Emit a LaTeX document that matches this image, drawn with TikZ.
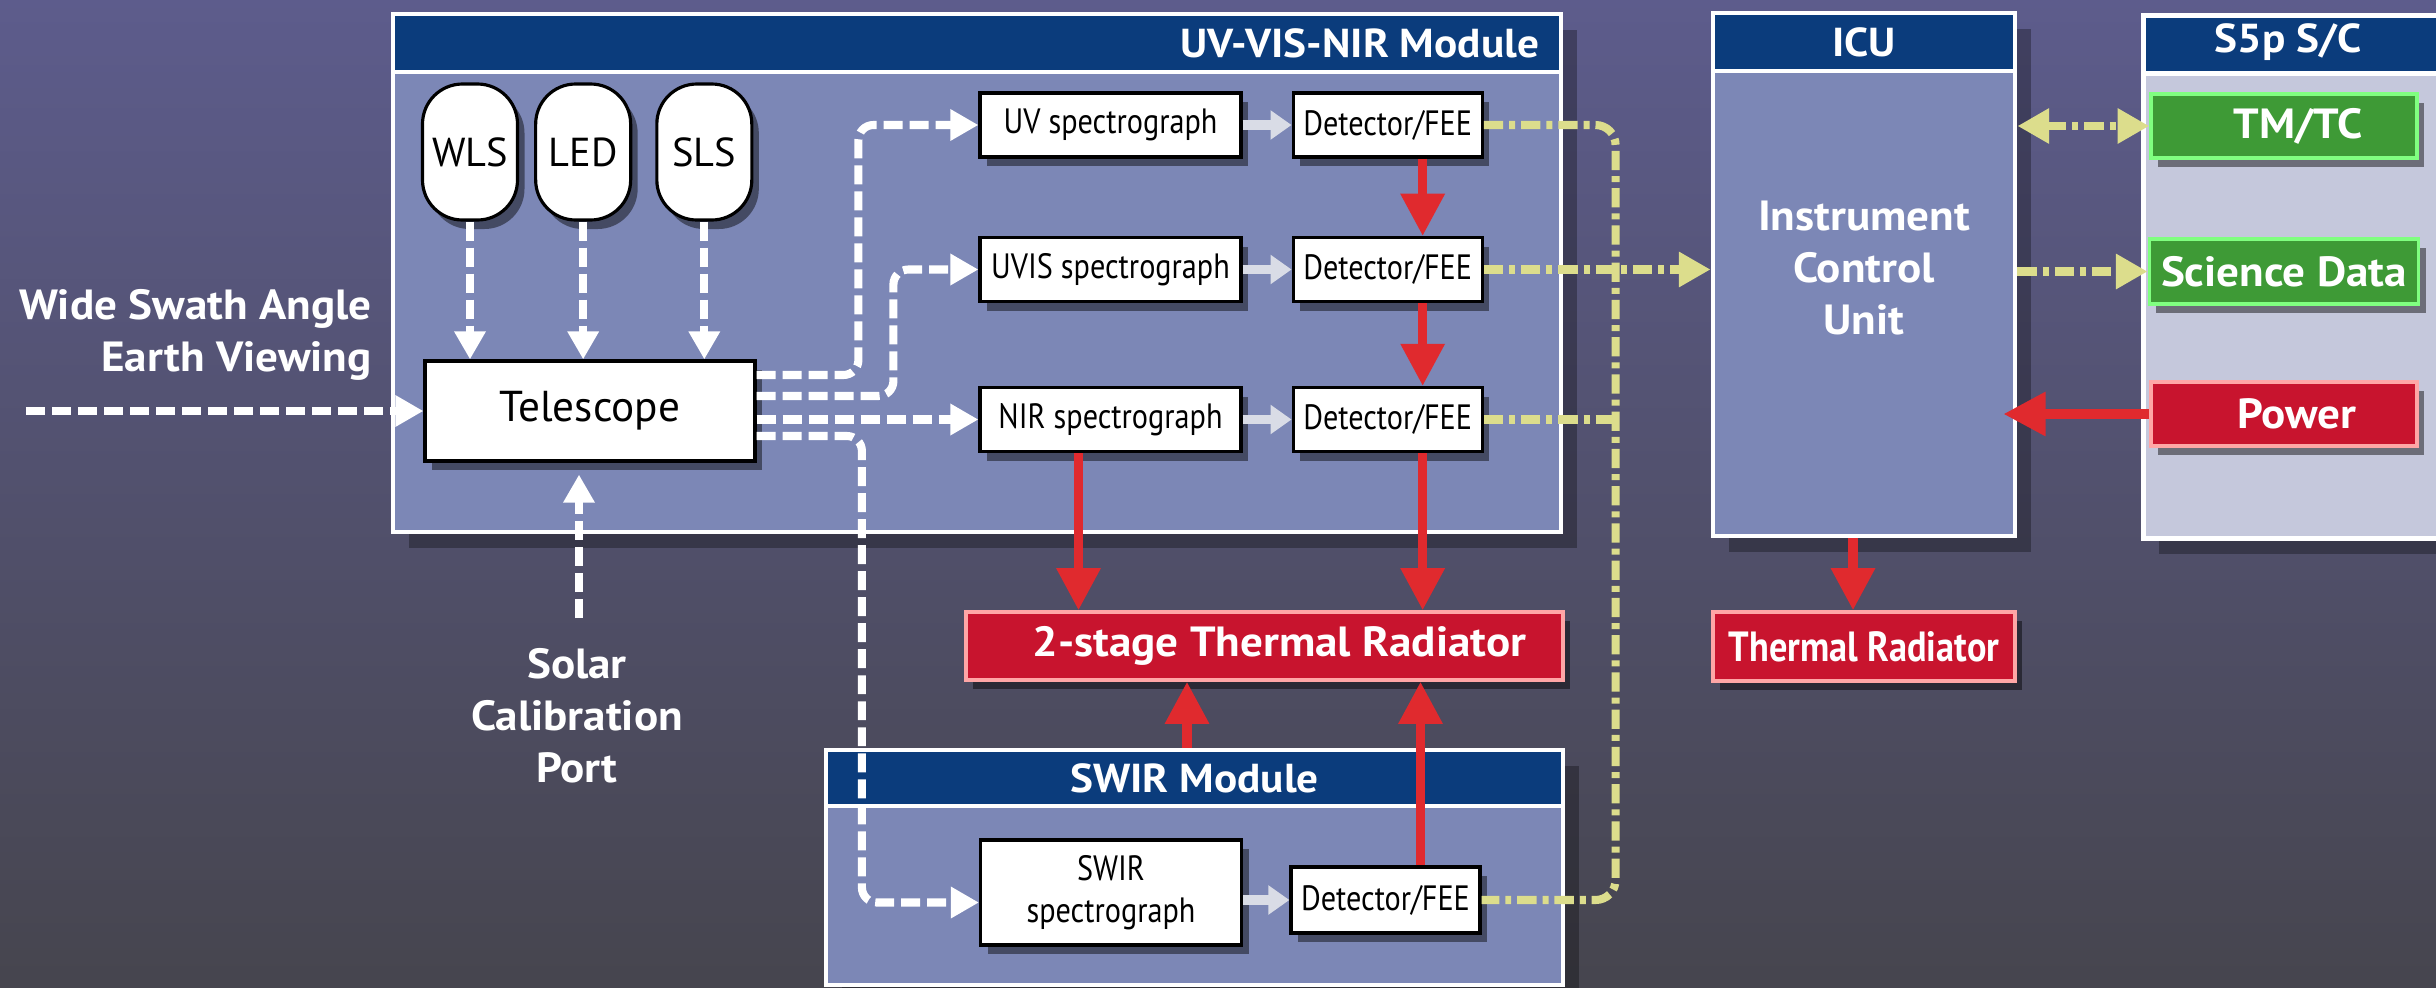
\documentclass[tikz,border=0pt]{standalone}
\usepackage{fontspec}
\setmainfont{PT Sans}
\newfontfamily\condfont[FakeStretch=0.86]{PT Sans}
\newfontfamily\rotfont[FakeStretch=1.07]{PT Sans}
\usepackage{xcolor}
\usepackage{tikz}
\usetikzlibrary{arrows.meta, positioning, calc, shadows}

\definecolor{fundotopo}{HTML}{5D5C8C}
\definecolor{fundomeio}{HTML}{53526F}
\definecolor{fundobase}{HTML}{46454E}
\definecolor{azulcab}{HTML}{0B3C7C}
\definecolor{corpomod}{HTML}{7C87B6}
\definecolor{corpocs}{HTML}{C5C8DC}
\definecolor{vermelho}{HTML}{C8142E}
\definecolor{setavermelha}{HTML}{E02A2E}
\definecolor{verde}{HTML}{3E9A36}
\definecolor{amarelo}{HTML}{DCDD8C}
\definecolor{cinzaseta}{HTML}{D9DCE6}

\begin{document}
\begin{tikzpicture}[
        sombra/.style={drop shadow={shadow xshift=0.07cm, shadow yshift=-0.09cm, opacity=0.45, fill=black}},
        sombramod/.style={drop shadow={shadow xshift=0.16cm, shadow yshift=-0.16cm, opacity=0.3, fill=black}},
        caixa/.style={draw=black, fill=white, line width=0.9pt, inner sep=1pt, align=center, sombra},
        spec/.style={caixa, minimum width=2.61cm, minimum height=0.64cm, font=\condfont\fontsize{10}{12}\selectfont},
        det/.style={spec, minimum width=1.89cm},
        fonte/.style={caixa, rounded corners=0.4cm, minimum width=0.95cm, minimum height=1.36cm, font=\fontsize{11.5}{13}\selectfont},
        modulo/.style={draw=white, fill=corpomod, line width=1.4pt, inner sep=0pt, sombramod},
        cabecalho/.style={draw=white, fill=azulcab, line width=1.4pt, inner sep=0pt, minimum height=0.58cm},
        titulo/.style={text=white, font=\rotfont\bfseries\fontsize{11.5}{13}\selectfont},
        rotulo/.style={text=white, align=center, font=\rotfont\bfseries\fontsize{12}{14.8}\selectfont},
        radiador/.style={draw=red!35!white, fill=vermelho, line width=1pt, text=white, font=\rotfont\bfseries\fontsize{12}{13}\selectfont, sombra},
        scbox/.style={draw=green!50!white, fill=verde, line width=1pt, minimum width=2.66cm, minimum height=0.64cm, text=white, font=\rotfont\bfseries\fontsize{12}{13}\selectfont, sombra},
        luz/.style={draw=white, line width=2.3pt, dash pattern=on 5.4pt off 2pt, rounded corners=0.15cm, -{Triangle[width=8.5pt,length=8pt]}},
        calor/.style={draw=setavermelha, line width=2.6pt, -{Triangle[width=12pt,length=12pt]}},
        dados/.style={draw=amarelo, line width=2.3pt, dash pattern=on 5.5pt off 1.7pt on 1.7pt off 1.7pt, rounded corners=0.2cm},
        dadosseta/.style={dados, -{Triangle[width=9.5pt,length=9pt]}},
        passo/.style={draw=cinzaseta, line width=2.6pt, -{Triangle[width=8pt,length=6pt]}}
    ]

        \useasboundingbox (0,0) rectangle (24.36,-9.87);
        \clip (0,0) rectangle (24.36,-9.87);
        \shade[top color=fundotopo, middle color=fundomeio, bottom color=fundobase] (0,0) rectangle (24.36,-9.87);

        % Módulos
        \node[modulo, minimum width=11.68cm, minimum height=5.18cm] (uvmod) at (9.77,-2.73) {};
        \node[cabecalho, minimum width=11.68cm, anchor=north] (uvcab) at (uvmod.north) {};
        \node[titulo, anchor=east] (uvtit) at ([xshift=-0.12cm]uvcab.east) {UV-VIS-NIR Module};

        \node[modulo, minimum width=3.02cm, minimum height=5.23cm] (icu) at (18.64,-2.745) {};
        \node[cabecalho, minimum width=3.02cm, anchor=north] (icucab) at (icu.north) {};
        \node[titulo] (icutit) at (icucab) {ICU};
        \node[rotulo] (icutxt) at (18.64,-2.68) {Instrument\\Control\\Unit};

        \node[modulo, fill=corpocs, minimum width=3.2cm, minimum height=5.23cm, anchor=north west] (sc) at (21.41,-0.13) {};
        \node[cabecalho, minimum width=3.2cm, anchor=north] (sccab) at (sc.north) {};
        \node[titulo] (sctit) at (22.88,-0.42) {S5p S/C};

        \node[modulo, minimum width=7.37cm, minimum height=2.35cm] (swirmod) at (11.945,-8.675) {};
        \node[cabecalho, minimum width=7.37cm, minimum height=0.56cm, anchor=north] (swircab) at (swirmod.north) {};
        \node[titulo] (swirtit) at (swircab) {SWIR Module};

        % Nós (Blocos)
        \node[fonte] (wls) at (4.70,-1.52) {WLS};
        \node[fonte, right=0.15cm of wls] (led) {LED};
        \node[fonte, right=0.23cm of led] (sls) {SLS};

        \node[caixa, minimum width=3.30cm, minimum height=1.00cm, font=\fontsize{12.3}{14}\selectfont] (tel) at (5.90,-4.11) {Telescope};

        \node[spec] (uvspec) at (11.105,-1.25) {UV spectrograph};
        \node[spec] (uvisspec) at (11.105,-2.695) {UVIS spectrograph};
        \node[spec] (nirspec) at (11.105,-4.195) {NIR spectrograph};
        \node[det, right=0.49cm of uvspec] (uvdet) {Detector/FEE};
        \node[det, right=0.49cm of uvisspec] (uvisdet) {Detector/FEE};
        \node[det, right=0.49cm of nirspec] (nirdet) {Detector/FEE};

        \node[spec, minimum height=1.05cm] (swirspec) at (11.11,-8.925) {SWIR\\spectrograph};
        \node[det, minimum height=0.66cm] (swirdet) at (13.855,-9.0) {Detector/FEE};

        \node[radiador, minimum width=5.97cm, minimum height=0.68cm] (rad2) at (12.645,-6.46) {\hspace{0.3cm}2-stage Thermal Radiator};
        \node[radiador, minimum width=3.02cm, minimum height=0.69cm, font=\condfont\bfseries\fontsize{12}{13}\selectfont] (icurad) at (18.64,-6.465) {Thermal Radiator};

        \node[scbox] (tmtc) at (22.84,-1.26) {\hspace{0.28cm}TM/TC};
        \node[scbox, minimum height=0.65cm] (sci) at (22.84,-2.715) {Science Data};
        \node[radiador, minimum width=2.66cm, minimum height=0.64cm] (power) at (22.84,-4.14) {\hspace{0.26cm}Power};

        \node[rotulo, align=right, anchor=east] (visada) at (3.84,-3.35) {Wide Swath Angle\\Earth Viewing};
        \node[rotulo] (solar) at (5.77,-7.16) {Solar\\Calibration\\Port};

        \coordinate (terra) at (0.26,-4.11);
        \coordinate (sol) at (5.79,-6.18);
        \coordinate (barra) at ([xshift=1.35cm]uvdet.east);

        % Setas
        \draw[luz] (terra) -- (tel.west);
        \draw[luz, shorten >=0.12cm] (sol) -- (sol |- tel.south);
        \draw[luz] (wls.south) -- (wls.south |- tel.north);
        \draw[luz] (led.south) -- (led.south |- tel.north);
        \draw[luz] (sls.south) -- (sls.south |- tel.north);

        \draw[luz] ([yshift=0.36cm]tel.east) -| ([xshift=-1.2cm]uvspec.west) -- (uvspec.west);
        \draw[luz] ([yshift=0.15cm]tel.east) -| ([xshift=-0.85cm]uvisspec.west) -- (uvisspec.west);
        \draw[luz] (tel.east |- nirspec.west) -- (nirspec.west);
        \draw[luz] ([yshift=-0.25cm]tel.east) -| ([xshift=-1.17cm,yshift=-0.1cm]swirspec.west) -- ([yshift=-0.1cm]swirspec.west);

        \draw[passo] (uvspec) -- (uvdet);
        \draw[passo] (uvisspec) -- (uvisdet);
        \draw[passo] (nirspec) -- (nirdet);
        \draw[passo] (swirspec.east |- swirdet) -- (swirdet.west);

        \draw[calor] ([xshift=-0.32cm]nirspec.south) -- ([xshift=-0.32cm]nirspec.south |- rad2.north);
        \draw[calor] ([xshift=0.35cm]uvdet.south) -- ([xshift=0.35cm]uvisdet.north);
        \draw[calor] ([xshift=0.35cm]uvisdet.south) -- ([xshift=0.35cm]nirdet.north);
        \draw[calor] ([xshift=0.35cm]nirdet.south) -- ([xshift=0.35cm]nirdet.south |- rad2.north);
        \draw[calor] ([xshift=0.35cm]swirdet.north) -- ([xshift=0.35cm]swirdet.north |- rad2.south);
        \draw[calor] ([xshift=-0.075cm]swircab.north) -- ([xshift=-0.075cm]swircab.north |- rad2.south);
        \draw[calor] ([xshift=-0.11cm]icu.south) -- ([xshift=-0.11cm]icu.south |- icurad.north);
        \draw[calor] (power.west) -- ([xshift=-0.14cm]icu.east |- power.west);

        \draw[dados] (uvdet.east) -| ([xshift=1.34cm]swirdet.east) -- (swirdet.east);
        \draw[dados] (nirdet.east) -- (nirdet.east -| barra);
        \draw[dadosseta] (uvisdet.east) -- (uvisdet.east -| icu.west);
        \draw[dados, {Triangle[width=9.5pt,length=9pt]}-{Triangle[width=9.5pt,length=9pt]}] (icu.east |- tmtc.west) -- (tmtc.west);
        \draw[dadosseta] (icu.east |- sci.west) -- (sci.west);

    \end{tikzpicture}
\end{document}
